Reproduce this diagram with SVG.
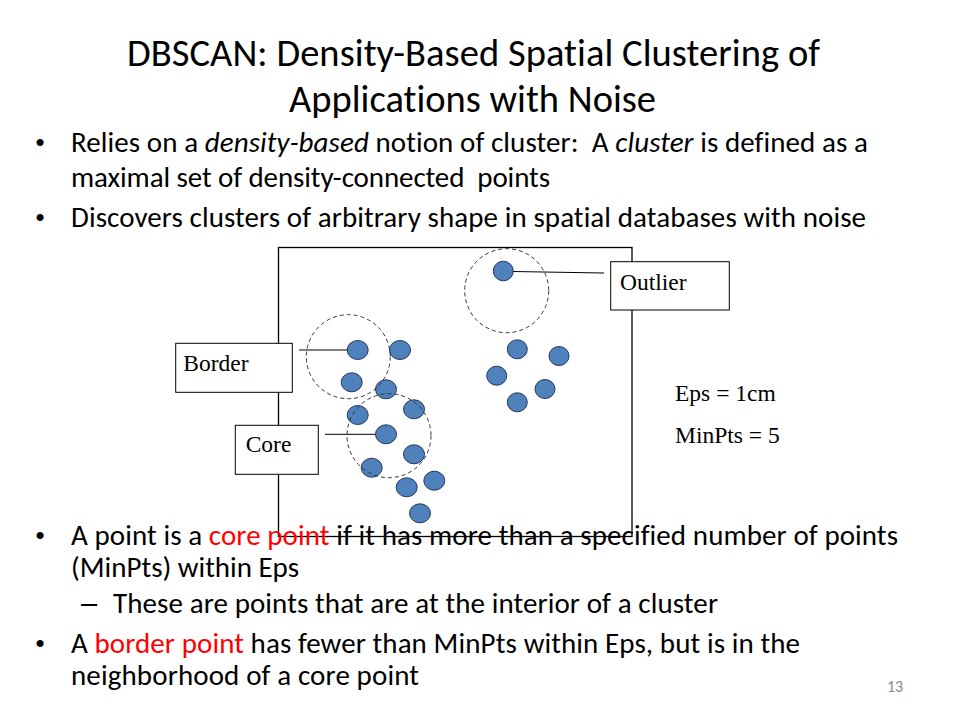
<svg xmlns="http://www.w3.org/2000/svg" width="960" height="720" viewBox="0 0 960 720">
<style>
.t{font-family:Carlito,Calibri,Lato,"Open Sans",sans-serif;fill:#000;font-variant-ligatures:none}
.title{font-size:38.5px}
.b{font-size:29px}
.red{fill:#FF0000}
.it{font-style:italic}
.bul{font-family:"Liberation Sans",Arial,sans-serif;font-size:26px;fill:#000}
.dash{font-family:"Liberation Sans",Arial,sans-serif;font-size:29px;fill:#000}
.serif{font-family:"Liberation Serif","Times New Roman",serif;font-size:23.5px;fill:#000}
.pt{fill:#4F81BD;stroke:#23395d;stroke-width:1}
.eps{fill:none;stroke:#333;stroke-width:1;stroke-dasharray:4 3}
.box{fill:#fff;stroke:#000;stroke-width:1}
.lead{stroke:#000;stroke-width:1}
.num{font-family:Carlito,Calibri,Lato,sans-serif;font-size:16px;fill:#898989}
</style>
<rect width="960" height="720" fill="#fff"/>

<g id="title">
<text class="t title" x="127" y="66" textLength="693">DBSCAN: Density-Based Spatial Clustering of</text>
<text class="t title" x="289" y="112" textLength="367">Applications with Noise</text>
</g>

<g id="bullets-top">
<text class="bul" x="35.5" y="151">•</text>
<text class="t b" x="71" y="152" textLength="797" xml:space="preserve">Relies on a <tspan class="it">density-based</tspan> notion of cluster:  A <tspan class="it">cluster</tspan> is defined as a</text>
<text class="t b" x="71" y="187" textLength="479" xml:space="preserve">maximal set of density-connected  points</text>
<text class="bul" x="35.5" y="226">•</text>
<text class="t b" x="71" y="227" textLength="795">Discovers clusters of arbitrary shape in spatial databases with noise</text>
</g>

<g id="frame">
<rect x="278.5" y="247.5" width="353.5" height="289" fill="none" stroke="#000" stroke-width="1.3"/>
</g>

<g id="connectors">
<line class="lead" x1="299" y1="350" x2="348" y2="350"/>
<line class="lead" x1="325" y1="434.3" x2="376" y2="434.3"/>
<line class="lead" x1="513" y1="271.5" x2="604" y2="273"/>
</g>

<g id="points">
<ellipse class="pt" cx="357.7" cy="350" rx="10.5" ry="9.5"/>
<ellipse class="pt" cx="400" cy="350" rx="10.5" ry="9.5"/>
<ellipse class="pt" cx="351.7" cy="382.3" rx="10.5" ry="9.5"/>
<ellipse class="pt" cx="386" cy="389.3" rx="10.5" ry="9.5"/>
<ellipse class="pt" cx="357.7" cy="415" rx="10.5" ry="9.5"/>
<ellipse class="pt" cx="414" cy="409.3" rx="10.5" ry="9.5"/>
<ellipse class="pt" cx="386" cy="434.3" rx="10.5" ry="9.5"/>
<ellipse class="pt" cx="414" cy="454.3" rx="10.5" ry="9.5"/>
<ellipse class="pt" cx="371.7" cy="467.7" rx="10.5" ry="9.5"/>
<ellipse class="pt" cx="406.7" cy="487.3" rx="10.5" ry="9.5"/>
<ellipse class="pt" cx="434.3" cy="480.7" rx="10.5" ry="9.5"/>
<ellipse class="pt" cx="420" cy="513.3" rx="10.5" ry="9.5"/>
<ellipse class="pt" cx="503.3" cy="271" rx="10" ry="9.8"/>
<ellipse class="pt" cx="517.3" cy="349.3" rx="10" ry="9.5"/>
<ellipse class="pt" cx="559" cy="356" rx="10" ry="9.5"/>
<ellipse class="pt" cx="496.7" cy="375.7" rx="10" ry="9.5"/>
<ellipse class="pt" cx="545" cy="389" rx="10" ry="9.5"/>
<ellipse class="pt" cx="517.3" cy="402.3" rx="10" ry="9.5"/>
</g>

<g id="eps-circles">
<circle class="eps" cx="348.3" cy="356.7" r="42"/>
<circle class="eps" cx="389" cy="435.7" r="42"/>
<circle class="eps" cx="506.7" cy="290.7" r="42"/>
</g>

<g id="node-border">
<rect class="box" x="175.7" y="343.3" width="116.6" height="49"/>
<text class="serif" x="183.3" y="370.7">Border</text>
</g>
<g id="node-core">
<rect class="box" x="235.3" y="425.3" width="83" height="49"/>
<text class="serif" x="245.7" y="452.3">Core</text>
</g>
<g id="node-outlier">
<rect class="box" x="610.7" y="261.7" width="118.6" height="48.3"/>
<text class="serif" x="620" y="290">Outlier</text>
</g>

<g id="params">
<text class="serif" x="675" y="400.7">Eps = 1cm</text>
<text class="serif" x="675" y="443.3">MinPts = 5</text>
</g>

<g id="bullets-bottom">
<text class="bul" x="35.5" y="544">•</text>
<text class="t b" x="71" y="545" textLength="827">A point is a <tspan class="red">core point</tspan> if it has more than a specified number of points</text>
<text class="t b" x="71" y="577" textLength="228">(MinPts) within Eps</text>
<text class="dash" x="81" y="613">–</text>
<text class="t b" x="113" y="613.3" textLength="605">These are points that are at the interior of a cluster</text>
<text class="bul" x="35.5" y="652">•</text>
<text class="t b" x="71" y="653.3" textLength="729">A <tspan class="red">border point</tspan> has fewer than MinPts within Eps, but is in the</text>
<text class="t b" x="71" y="685" textLength="348">neighborhood of a core point</text>
</g>

<text class="num" x="887" y="692">13</text>
</svg>
